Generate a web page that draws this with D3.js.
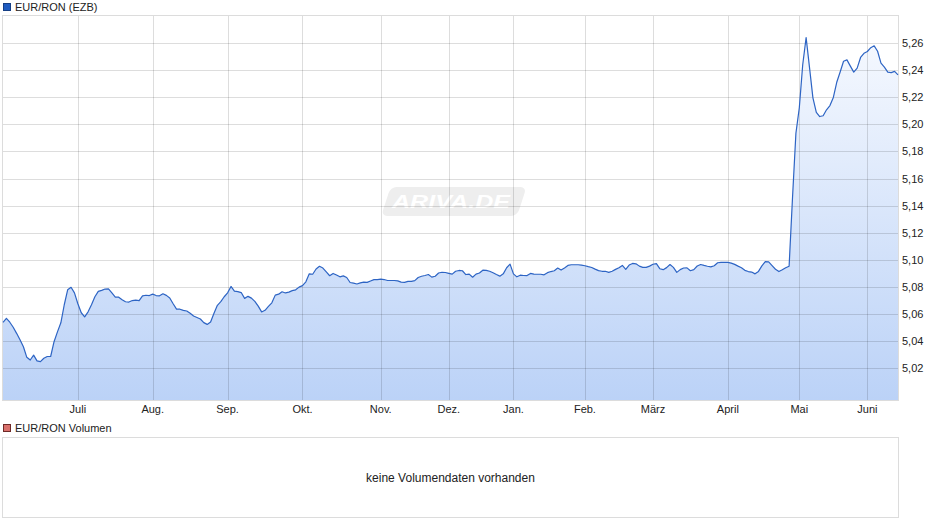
<!DOCTYPE html>
<html><head><meta charset="utf-8">
<script src="https://cdn.jsdelivr.net/npm/d3@7"></script>
<style>
html,body{margin:0;padding:0;background:#fff;}
svg{display:block;font-family:"Liberation Sans",Arial,sans-serif;}
</style></head>
<body>
<svg id="c" width="940" height="526"></svg>
<script>
const seriesName = "EUR/RON (EZB)";
const volumeName = "EUR/RON Volumen";
const noVolumeText = "keine Volumendaten vorhanden";
const watermark = "ARIVA.DE";

// daily EUR/RON reference rates (trading days)
const rates = [
5.0538,5.0569,5.0540,5.0503,5.0458,5.0410,5.0359,5.0281,5.0261,5.0297,
5.0255,5.0249,5.0274,5.0287,5.0287,5.0396,5.0469,5.0536,5.0669,5.0779,
5.0798,5.0757,5.0676,5.0610,5.0580,5.0617,5.0669,5.0728,5.0768,5.0775,
5.0785,5.0786,5.0757,5.0725,5.0725,5.0706,5.0691,5.0689,5.0700,5.0703,
5.0699,5.0735,5.0739,5.0737,5.0747,5.0737,5.0735,5.0750,5.0738,5.0719,
5.0676,5.0637,5.0636,5.0627,5.0623,5.0606,5.0586,5.0575,5.0564,5.0537,
5.0524,5.0542,5.0606,5.0665,5.0692,5.0728,5.0757,5.0804,5.0770,5.0766,
5.0759,5.0716,5.0731,5.0718,5.0694,5.0659,5.0616,5.0628,5.0657,5.0683,
5.0740,5.0747,5.0765,5.0756,5.0762,5.0773,5.0779,5.0799,5.0810,5.0838,
5.0897,5.0894,5.0933,5.0953,5.0940,5.0911,5.0883,5.0900,5.0888,5.0875,
5.0882,5.0870,5.0833,5.0828,5.0822,5.0830,5.0836,5.0834,5.0844,5.0854,
5.0855,5.0858,5.0855,5.0848,5.0848,5.0848,5.0845,5.0836,5.0834,5.0841,
5.0842,5.0847,5.0870,5.0879,5.0885,5.0892,5.0873,5.0879,5.0903,5.0909,
5.0907,5.0901,5.0895,5.0916,5.0922,5.0920,5.0892,5.0895,5.0872,5.0895,
5.0903,5.0924,5.0923,5.0916,5.0905,5.0892,5.0880,5.0897,5.0942,5.0969,
5.0897,5.0875,5.0887,5.0885,5.0884,5.0900,5.0895,5.0894,5.0894,5.0890,
5.0906,5.0914,5.0920,5.0940,5.0925,5.0941,5.0959,5.0964,5.0964,5.0964,
5.0962,5.0957,5.0950,5.0944,5.0932,5.0921,5.0916,5.0916,5.0908,5.0916,
5.0930,5.0942,5.0959,5.0930,5.0962,5.0974,5.0971,5.0954,5.0945,5.0945,
5.0954,5.0968,5.0973,5.0935,5.0928,5.0943,5.0966,5.0945,5.0908,5.0928,
5.0940,5.0941,5.0920,5.0928,5.0955,5.0966,5.0959,5.0953,5.0949,5.0957,
5.0979,5.0982,5.0982,5.0982,5.0976,5.0967,5.0954,5.0942,5.0923,5.0914,
5.0910,5.0897,5.0915,5.0956,5.0987,5.0985,5.0958,5.0931,5.0914,5.0927,
5.0942,5.0953,5.1458,5.1935,5.2123,5.2440,5.2640,5.2419,5.2196,5.2089,
5.2058,5.2064,5.2108,5.2139,5.2199,5.2311,5.2387,5.2466,5.2476,5.2430,
5.2386,5.2415,5.2494,5.2525,5.2538,5.2566,5.2580,5.2540,5.2452,5.2423,
5.2386,5.2382,5.2391,5.2366
];

const monthLabels = ["Juli","Aug.","Sep.","Okt.","Nov.","Dez.","Jan.","Feb.","März","April","Mai","Juni"];
const monthStartIdx = [22,44,66,88,111,131,150,171,191,213,234,254];
const yTicks = [5.02,5.04,5.06,5.08,5.10,5.12,5.14,5.16,5.18,5.20,5.22,5.24,5.26];
const yDomain = [4.9966, 5.28];

const svg = d3.select("#c");
const L = 3, R = 898, T = 16, B = 400;

const x = d3.scaleLinear().domain([0, rates.length - 1]).range([L, R]);
const y = d3.scaleLinear().domain(yDomain).range([B, T]);

const defs = svg.append("defs");
const grad = defs.append("linearGradient").attr("id","fillg")
  .attr("gradientUnits","userSpaceOnUse").attr("x1",0).attr("x2",0).attr("y1",T).attr("y2",B);
grad.append("stop").attr("offset","0%").attr("stop-color","#f9fbff");
grad.append("stop").attr("offset","100%").attr("stop-color","#bbd2f7");

// watermark
const wm = svg.append("g").attr("transform","translate(452,201)");
wm.append("rect").attr("x",-66).attr("y",-14).attr("width",136).attr("height",29).attr("rx",6)
  .attr("transform","skewX(-18)").attr("fill","#eeeeee");
wm.append("text").attr("x",-60).attr("y",7).attr("font-size",18).attr("font-weight","bold")
  .attr("font-style","italic").attr("fill","#ffffff").attr("textLength",118)
  .attr("lengthAdjust","spacingAndGlyphs").text(watermark);

// area
const area = d3.area().x((d,i)=>x(i)).y0(B).y1(d=>y(d));
svg.append("path").datum(rates).attr("d",area).attr("fill","url(#fillg)");

// gridlines
const grid = svg.append("g").attr("stroke","rgba(0,0,0,0.135)").attr("stroke-width",1).attr("shape-rendering","crispEdges");
grid.selectAll("line.h").data(yTicks).join("line")
  .attr("x1",L).attr("x2",R).attr("y1",d=>Math.round(y(d))+0.5).attr("y2",d=>Math.round(y(d))+0.5);
grid.selectAll("line.v").data(monthStartIdx).join("line")
  .attr("y1",T).attr("y2",B).attr("x1",d=>Math.round(x(d))+0.5).attr("x2",d=>Math.round(x(d))+0.5);

// frame
svg.append("rect").attr("x",L-0.5).attr("y",T-0.5).attr("width",R-L+1).attr("height",B-T+1)
  .attr("fill","none").attr("stroke","#dcdcdc").attr("shape-rendering","crispEdges");

// line
const line = d3.line().x((d,i)=>x(i)).y(d=>y(d));
svg.append("path").datum(rates).attr("d",line).attr("fill","none")
  .attr("stroke","#2d64c4").attr("stroke-width",1.2).attr("stroke-linejoin","round");

// y axis labels
const fmt = d => d3.format(".2f")(d).replace(".", ",");
svg.append("g").selectAll("text").data(yTicks).join("text")
  .attr("x",R+4).attr("y",d=>y(d)+4).attr("font-size",11).attr("fill","#222").text(fmt);

// x axis labels
svg.append("g").selectAll("text").data(monthStartIdx).join("text")
  .attr("x",d=>x(d)).attr("y",413).attr("text-anchor","middle").attr("font-size",11)
  .attr("fill","#222").text((d,i)=>monthLabels[i]);

// legends
svg.append("rect").attr("x",3.5).attr("y",3.5).attr("width",7).attr("height",7)
  .attr("fill","#1f5bc0").attr("stroke","#163f85");
svg.append("text").attr("x",15).attr("y",11).attr("font-size",11).attr("fill","#222").text(seriesName);

svg.append("rect").attr("x",3.5).attr("y",424.5).attr("width",7).attr("height",7)
  .attr("fill","#d9706c").attr("stroke","#6e2a28");
svg.append("text").attr("x",15).attr("y",432).attr("font-size",11).attr("fill","#222").text(volumeName);

// volume panel
svg.append("rect").attr("x",L-0.5).attr("y",437.5).attr("width",R-L+1).attr("height",80)
  .attr("fill","none").attr("stroke","#dcdcdc").attr("shape-rendering","crispEdges");
svg.append("text").attr("x",(L+R)/2).attr("y",482).attr("text-anchor","middle")
  .attr("font-size",12).attr("fill","#222").text(noVolumeText);
</script>
</body></html>
